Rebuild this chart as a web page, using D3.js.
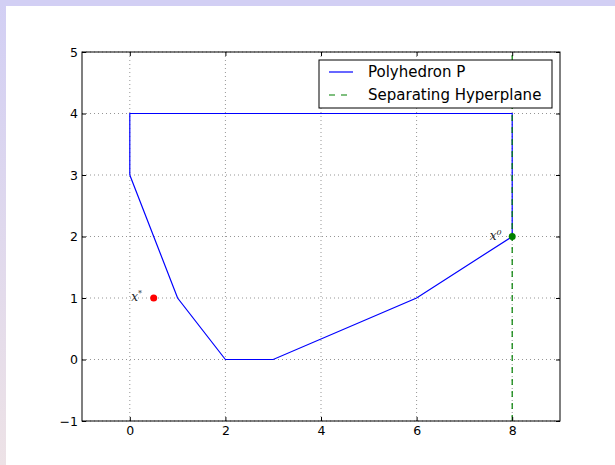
<!DOCTYPE html>
<html>
<head>
<meta charset="utf-8">
<script src="https://cdn.jsdelivr.net/npm/d3@7"></script>
<style>
  body { margin: 0; background: #fff; }
  svg { display: block; font-family: "DejaVu Sans", sans-serif; }
</style>
</head>
<body>
<svg id="chart" width="615" height="465"></svg>
<script>
// polyhedron vertices (closed path)
var polyX = [0, 1, 2, 3, 6, 8, 8, 0, 0];
var polyY = [3, 1, 0, 0, 1, 2, 4, 4, 3];
// separating hyperplane x = 8
var hypX = [8, 8];
var hypY = [-1, 5];
// points
var ptX = [8, 0.5];
var ptY = [2, 1];
var ptColor = ["#008000", "#ff0000"];
var ptLabel = ["0", "*"];
var xTicks = [0, 2, 4, 6, 8];
var yTicks = [-1, 0, 1, 2, 3, 4, 5];
var legendNames = ["Polyhedron P", "Separating Hyperplane"];

var svg = d3.select("#chart");

// slide background bands
var grad = svg.append("defs").append("linearGradient")
  .attr("id", "side").attr("x1", 0).attr("y1", 0).attr("x2", 0).attr("y2", 1);
grad.append("stop").attr("offset", "0%").attr("stop-color", "#d2cff4");
grad.append("stop").attr("offset", "100%").attr("stop-color", "#ede2e6");
svg.append("rect").attr("x", 0).attr("y", 0).attr("width", 6).attr("height", 465).attr("fill", "url(#side)");
svg.append("rect").attr("x", 0).attr("y", 0).attr("width", 615).attr("height", 6).attr("fill", "#d2cff4");

var margin = {top: 52, left: 82},
    width = 478, height = 369;

var g = svg.append("g").attr("transform", "translate(" + margin.left + "," + margin.top + ")");

var x = d3.scaleLinear().domain([-1, 9]).range([0, width]);
var y = d3.scaleLinear().domain([-1, 5]).range([height, 0]);

// grid
g.selectAll(".gx").data(xTicks).enter().append("line")
  .attr("x1", d => x(d)).attr("x2", d => x(d)).attr("y1", 0).attr("y2", height)
  .attr("stroke", "#000").attr("stroke-opacity", 0.6).attr("stroke-width", 0.7).attr("stroke-dasharray", "1,3");
g.selectAll(".gy").data(yTicks).enter().append("line")
  .attr("y1", d => y(d)).attr("y2", d => y(d)).attr("x1", 0).attr("x2", width)
  .attr("stroke", "#000").attr("stroke-opacity", 0.6).attr("stroke-width", 0.7).attr("stroke-dasharray", "1,3");

var line = d3.line().x(d => x(d[0])).y(d => y(d[1]));

g.append("path")
  .datum(d3.zip(polyX, polyY))
  .attr("d", line).attr("fill", "none").attr("stroke", "#0000ff").attr("stroke-width", 1.2);

g.append("path")
  .datum(d3.zip(hypX, hypY))
  .attr("d", line).attr("fill", "none").attr("stroke", "#008000").attr("stroke-width", 1.2)
  .attr("stroke-dasharray", "6,6");

g.selectAll(".pt").data(d3.range(ptX.length)).enter().append("circle")
  .attr("cx", i => x(ptX[i])).attr("cy", i => y(ptY[i])).attr("r", 3.5)
  .attr("fill", i => ptColor[i]);

// math labels
var lab = g.selectAll(".lab").data(d3.range(ptX.length)).enter().append("text")
  .attr("x", i => x(ptX[i] - 0.47)).attr("y", i => y(ptY[i]) + 3)
  .style("font-family", "'DejaVu Serif', serif").style("font-style", "italic").style("font-size", "12px")
  .attr("fill", "#222");
lab.append("tspan").text("x");
lab.append("tspan").attr("dy", -5).style("font-size", "8px").text(i => ptLabel[i]);

// frame
g.append("rect").attr("width", width).attr("height", height)
  .attr("fill", "none").attr("stroke", "#000").attr("stroke-width", 1);

// axes (ticks inward)
var xAxis = g.append("g").attr("transform", "translate(0," + height + ")")
  .call(d3.axisBottom(x).tickValues(xTicks).tickSizeInner(-4).tickSizeOuter(0).tickPadding(5)
    .tickFormat(d3.format("d")));
var xTop = g.append("g")
  .call(d3.axisTop(x).tickValues(xTicks).tickSizeInner(-4).tickSizeOuter(0).tickFormat(""));
var yAxis = g.append("g")
  .call(d3.axisLeft(y).tickValues(yTicks).tickSizeInner(-4).tickSizeOuter(0).tickPadding(4)
    .tickFormat(d => d < 0 ? "\u2212" + Math.abs(d) : d));
var yRight = g.append("g").attr("transform", "translate(" + width + ",0)")
  .call(d3.axisRight(y).tickValues(yTicks).tickSizeInner(-4).tickSizeOuter(0).tickFormat(""));

[xAxis, xTop, yAxis, yRight].forEach(function(a) {
  a.select(".domain").remove();
  a.selectAll("text").style("font-family", "'DejaVu Sans', sans-serif").style("font-size", "12.5px").attr("fill", "#000");
});

// legend
var leg = g.append("g").attr("transform", "translate(" + (319 - margin.left) + "," + (60 - margin.top) + ")");
leg.append("rect").attr("width", 233).attr("height", 48)
  .attr("fill", "#fff").attr("stroke", "#000").attr("stroke-width", 1);
var legColor = ["#0000ff", "#008000"];
var legDash = [null, "6,6"];
legendNames.forEach(function(name, i) {
  var yy = 12 + i * 23;
  leg.append("line").attr("x1", 10).attr("x2", 34).attr("y1", yy).attr("y2", yy)
    .attr("stroke", legColor[i]).attr("stroke-width", 1.2).attr("stroke-dasharray", legDash[i]);
  leg.append("text").attr("x", 49).attr("y", yy + 5).text(name)
    .style("font-size", "15px").attr("fill", "#000");
});
</script>
</body>
</html>
